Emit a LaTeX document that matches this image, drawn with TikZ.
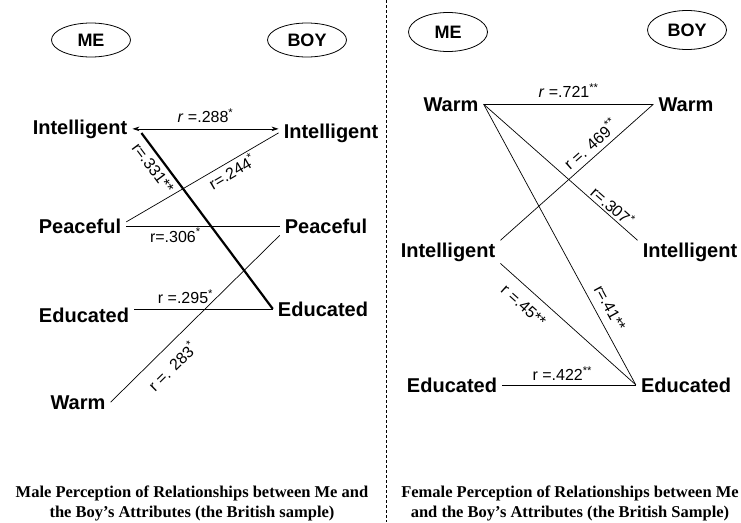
\documentclass[tikz,border=0pt]{standalone}
\usepackage{fontspec}
\setmainfont{Liberation Sans}
\newfontfamily\capfont{Liberation Serif}
\usetikzlibrary{shapes.geometric,arrows.meta}
\tikzset{
  attr/.style={anchor=base,inner xsep=5pt,inner ysep=2pt,
    font=\fontsize{20}{24}\selectfont\bfseries},
  who/.style={ellipse,draw=black,line width=0.8pt,
    minimum width=79pt,minimum height=34pt,inner sep=0pt,
    font=\fontsize{18}{22}\selectfont\bfseries},
  rlbl/.style={inner sep=2pt,font=\fontsize{16}{19}\selectfont},
  link/.style={draw=black,line width=0.7pt},
  boldlink/.style={draw=black,line width=2.2pt},
  both/.style={{Stealth[length=7pt,width=4.5pt]}-{Stealth[length=7pt,width=4.5pt]}},
  cap_txt/.style={anchor=north,align=center,inner sep=0pt,
    font=\capfont\bfseries\fontsize{16.5}{20}\selectfont},
}
\newcommand{\sig}[1]{\textsuperscript{#1}}

\begin{document}
\begin{tikzpicture}[x=1pt,y=-1pt]
  \useasboundingbox (0,0) rectangle (741,522);
  % male perception
  \node (meL)  [who] at (91,40)  {ME};
  \node (boyL) [who] at (307,40) {BOY};
  \node (intL)  [attr] at (80,134)  {Intelligent};
  \node (intR)  [attr] at (331,138) {Intelligent};
  \node (peaL)  [attr] at (80,233)  {Peaceful};
  \node (peaR)  [attr] at (326,233) {Peaceful};
  \node (eduL)  [attr] at (84,322)  {Educated};
  \node (eduR)  [attr] at (323,316) {Educated};
  \node (warmL) [attr] at (78,409)  {Warm};
  \draw[link,both] (intL.east) -- (intL.east -| intR.west)
    node[rlbl,midway,above=4pt] {\textit{r} =.288\sig{*}};
  \draw[boldlink] ([xshift=9pt,yshift=1pt]intL.base east) -- (eduR.west)
    node[rlbl,sloped,below=3pt,pos=0.16] {r=.331**};
  \draw[link] ([yshift=4pt]peaL.east) -- (intR.west)
    node[rlbl,sloped,below,pos=0.66] {r=.244\sig{*}};
  \draw[link] (peaL.east) -- (peaL.east -| peaR.west)
    node[rlbl,below,pos=0.32] {r=.306\sig{*}};
  \draw[link] (eduR.west -| eduL.east) -- (eduR.west)
    node[rlbl,above=3pt,pos=0.37] {r =.295\sig{*}};
  \draw[link] (warmL.east) -- (peaR.south west)
    node[rlbl,sloped,below=8pt,pos=0.29] {r =. 283\sig{*}};
  % divider
  \draw[black,thin,dash pattern=on 3pt off 2pt] (386,0) -- (386,522);
  % female perception
  \node (meF)  [who,minimum height=39pt] at (448,32) {ME};
  \node (boyF) [who,minimum height=39pt] at (687,30) {BOY};
  \node (warmFL) [attr] at (451,111) {Warm};
  \node (warmFR) [attr] at (686,111) {Warm};
  \node (intFL)  [attr] at (448,257) {Intelligent};
  \node (intFR)  [attr] at (690,257) {Intelligent};
  \node (eduFL)  [attr] at (452,392) {Educated};
  \node (eduFR)  [attr] at (686,392) {Educated};
  \draw[link] (warmFL.east) -- (warmFL.east -| warmFR.west)
    node[rlbl,midway,above=4pt] {\textit{r} =.721\sig{**}};
  \draw[link] (intFL.north east) -- (warmFR.west)
    node[rlbl,sloped,above=3pt,pos=0.64] {r =. 469\sig{**}};
  \draw[link] (warmFL.east) -- (intFR.north west)
    node[rlbl,sloped,above,pos=0.8] {r=.307\sig{*}};
  \draw[link] (warmFL.east) -- (eduFR.west)
    node[rlbl,sloped,above=6pt,pos=0.75] {r=.41**};
  \draw[link] (intFL.south east) -- (eduFR.west)
    node[rlbl,sloped,below=8pt,pos=0.25] {r =.45**};
  \draw[link] (eduFL.east) -- (eduFR.west)
    node[rlbl,above=2pt,pos=0.45] {r =.422\sig{**}};
  % captions
  \node (capM) [cap_txt] at (192,486) {Male Perception of Relationships between Me and\\
    the Boy’s Attributes (the British sample)};
  \node (capF) [cap_txt] at (570,486) {Female Perception of Relationships between Me\\
    and the Boy’s Attributes (the British Sample)};
\end{tikzpicture}
\end{document}
